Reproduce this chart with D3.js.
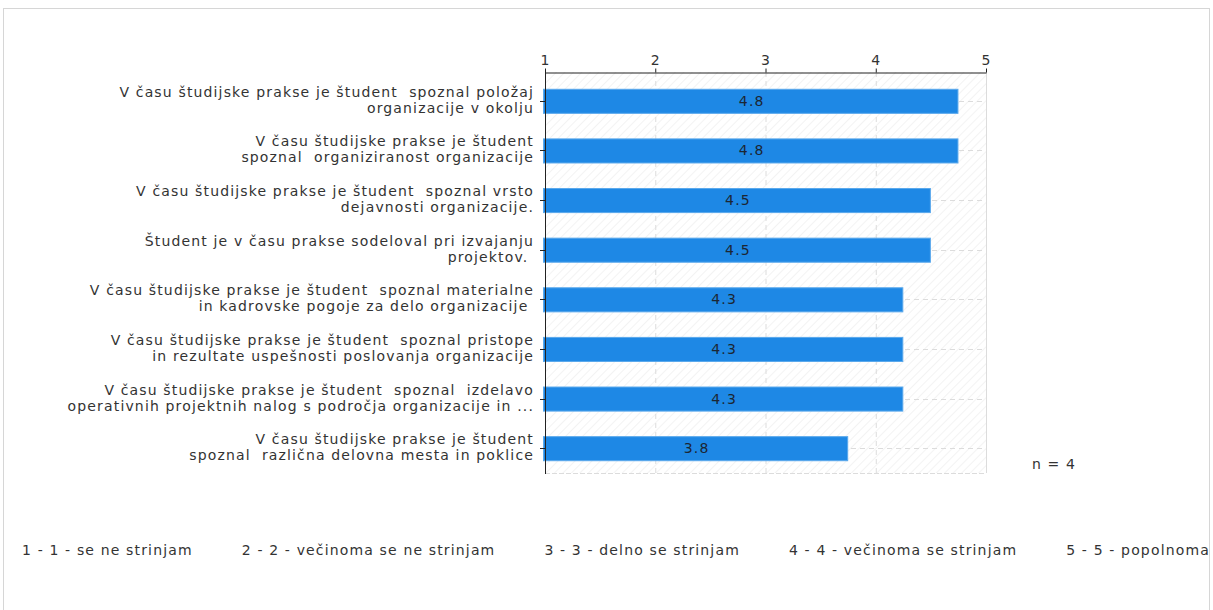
<!DOCTYPE html>
<html>
<head>
<meta charset="utf-8">
<script src="https://cdn.jsdelivr.net/npm/d3@7"></script>
<style>
  body { margin: 0; background: #fff; }
  svg text { font-family: "DejaVu Sans", Verdana, sans-serif; white-space: pre; letter-spacing: 1.15px; }
</style>
</head>
<body>
<svg id="chart" width="1213" height="610"></svg>
<script>
// questions, each split in the two lines shown in the chart
const questions = [
  ["V času študijske prakse je študent  spoznal položaj", "organizacije v okolju"],
  ["V času študijske prakse je študent", "spoznal  organiziranost organizacije"],
  ["V času študijske prakse je študent  spoznal vrsto", "dejavnosti organizacije."],
  ["Študent je v času prakse sodeloval pri izvajanju", "projektov. "],
  ["V času študijske prakse je študent  spoznal materialne", "in kadrovske pogoje za delo organizacije "],
  ["V času študijske prakse je študent  spoznal pristope", "in rezultate uspešnosti poslovanja organizacije"],
  ["V času študijske prakse je študent  spoznal  izdelavo", "operativnih projektnih nalog s področja organizacije in ..."],
  ["V času študijske prakse je študent", "spoznal  različna delovna mesta in poklice"]
];
const means = [4.75, 4.75, 4.5, 4.5, 4.25, 4.25, 4.25, 3.75];
const xTicks = [1, 2, 3, 4, 5];
const legendItems = [
  "1 - 1 - se ne strinjam",
  "2 - 2 - večinoma se ne strinjam",
  "3 - 3 - delno se strinjam",
  "4 - 4 - večinoma se strinjam",
  "5 - 5 - popolnoma se strinjam"
];
const nLabel = "n = 4";

const svg = d3.select("#chart");
const fs = 14;

// outer frame
svg.append("rect")
  .attr("x", 3.5).attr("y", 8.5)
  .attr("width", 1206).attr("height", 640)
  .attr("fill", "none").attr("stroke", "#d6d6d6");

const pL = 545, pR = 986, pT = 72, pB = 473;

const x = d3.scaleLinear().domain([1, 5]).range([pL, pR]);
const y = d3.scaleBand().domain(d3.range(questions.length)).range([76, pB]).paddingInner(0.515).paddingOuter(0.2575);
const yc = i => Math.round(y(i) + y.bandwidth() / 2);

// hatch background
const defs = svg.append("defs");
const pat = defs.append("pattern")
  .attr("id", "hatch").attr("patternUnits", "userSpaceOnUse")
  .attr("width", 6).attr("height", 6)
  .attr("patternTransform", "rotate(45)");
pat.append("line").attr("x1", 0).attr("y1", 0).attr("x2", 0).attr("y2", 6)
  .attr("stroke", "#ebebeb").attr("stroke-width", 1.2);

svg.append("rect")
  .attr("x", pL).attr("y", pT)
  .attr("width", pR - pL).attr("height", pB - pT)
  .attr("fill", "url(#hatch)");

// grid
const g = svg.append("g");
g.selectAll("line.vx").data(xTicks.slice(1, -1)).join("line")
  .attr("x1", d => x(d) + 0.5).attr("x2", d => x(d) + 0.5)
  .attr("y1", pT).attr("y2", pB)
  .attr("stroke", "#dcdcdc").attr("stroke-dasharray", "5,4");
g.selectAll("line.hy").data(d3.range(questions.length)).join("line")
  .attr("x1", pL).attr("x2", pR)
  .attr("y1", d => yc(d) + 0.5)
  .attr("y2", d => yc(d) + 0.5)
  .attr("stroke", "#dcdcdc").attr("stroke-dasharray", "5,4");
// bottom and right border
g.append("line").attr("x1", pL).attr("x2", pR).attr("y1", pB + 0.5).attr("y2", pB + 0.5)
  .attr("stroke", "#dcdcdc").attr("stroke-dasharray", "5,2");
g.append("line").attr("x1", pR + 0.5).attr("x2", pR + 0.5).attr("y1", pT).attr("y2", pB)
  .attr("stroke", "#dcdcdc");

// bars
svg.append("g").selectAll("rect").data(means).join("rect")
  .attr("x", pL - 1.5)
  .attr("y", (d, i) => y(i) + 0.5)
  .attr("width", d => x(d) - pL + 1)
  .attr("height", y.bandwidth())
  .attr("fill", "#1e88e5")
  .attr("stroke", "#5aa8ec").attr("stroke-width", 1);

svg.append("g").selectAll("text").data(means).join("text")
  .attr("x", d => (pL + x(d)) / 2)
  .attr("y", (d, i) => y(i) + y.bandwidth() / 2 + 5)
  .attr("text-anchor", "middle")
  .attr("font-size", fs)
  .attr("fill", "#1c2633")
  .text(d => d3.format(".1f")(d));

// top axis
const xAxis = svg.append("g")
  .attr("transform", `translate(0,${pT + 0.5})`)
  .call(d3.axisTop(x).tickValues(xTicks).tickFormat(d3.format("d")).tickSize(4).tickPadding(4).tickSizeOuter(0));
xAxis.select(".domain").attr("stroke", "#222");
xAxis.selectAll(".tick line").attr("stroke", "#222");
xAxis.selectAll(".tick text").attr("font-size", fs).attr("fill", "#333")
  .attr("font-family", "DejaVu Sans, Verdana, sans-serif");

// left axis
svg.append("line")
  .attr("x1", pL + 0.5).attr("x2", pL + 0.5)
  .attr("y1", pT).attr("y2", pB + 1)
  .attr("stroke", "#222");
svg.append("g").selectAll("line").data(d3.range(questions.length)).join("line")
  .attr("x1", pL - 5).attr("x2", pL)
  .attr("y1", d => yc(d) + 0.5)
  .attr("y2", d => yc(d) + 0.5)
  .attr("stroke", "#222");

// category labels
const labels = svg.append("g").selectAll("text").data(questions).join("text")
  .attr("text-anchor", "end")
  .attr("font-size", fs)
  .attr("fill", "#333")
  .attr("transform", (d, i) => `translate(${pL - 11},${yc(i)})`);
labels.selectAll("tspan").data(d => d).join("tspan")
  .attr("x", 0)
  .attr("y", (d, j) => j === 0 ? -4 : 12)
  .text(d => d);

// n label
svg.append("text")
  .attr("x", 1032).attr("y", 469)
  .attr("font-size", fs).attr("fill", "#333")
  .text(nLabel);

// legend, clipped by frame
defs.append("clipPath").attr("id", "frameClip")
  .append("rect").attr("x", 4).attr("y", 9).attr("width", 1205).attr("height", 600);
const leg = svg.append("g").attr("clip-path", "url(#frameClip)");
let lx = 22;
legendItems.forEach(t => {
  const el = leg.append("text")
    .attr("x", lx).attr("y", 555)
    .attr("font-size", fs).attr("fill", "#333")
    .text(t);
  lx += el.node().getComputedTextLength() + 49;
});
</script>
</body>
</html>
